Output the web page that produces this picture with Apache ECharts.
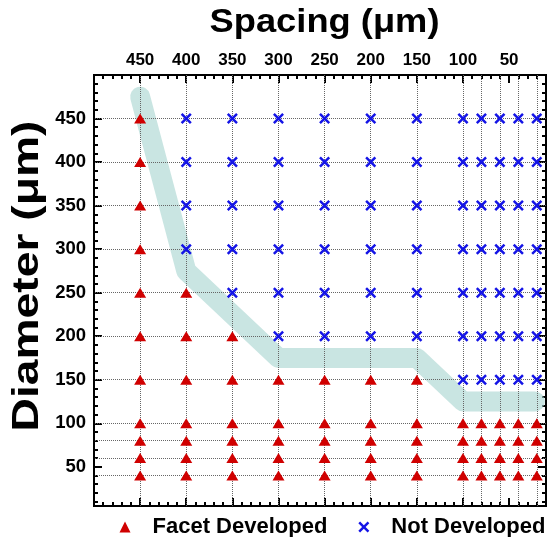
<!DOCTYPE html>
<html><head><meta charset="utf-8">
<script src="https://cdn.jsdelivr.net/npm/echarts@6/dist/echarts.min.js"></script>
<style>html,body{margin:0;padding:0;background:#fff}#c{width:553px;height:537px}</style>
</head><body><div id="c"></div>
<script>
// Data
const spacing = [450, 400, 350, 300, 250, 200, 150, 100, 80, 60, 40, 20];
const diameter = [450, 400, 350, 300, 250, 200, 150, 100, 80, 60, 40];
// largest diameter at which a facet developed, per spacing column
const facetLimit = [450, 250, 200, 150, 150, 150, 150, 100, 100, 100, 100, 100];
// boundary band
const bandSpacing = [450, 400, 300, 150, 100, 22];
const bandDiameter = [475, 275, 175, 175, 125, 125];
// tick labels
const xTickLabels = [450, 400, 350, 300, 250, 200, 150, 100, 50];
const yTickLabels = [450, 400, 350, 300, 250, 200, 150, 100, 50];
const xMinorTicks = [10,20,30,40,60,70,80,90,110,120,130,140,160,170,180,190,210,220,230,240,260,270,280,290,310,320,330,340,360,370,380,390,410,420,430,440,460,470,480,490];
const yMinorTicks = xMinorTicks;

const facet = [], notDev = [];
spacing.forEach((s, i) => diameter.forEach(d => {
  (d <= facetLimit[i] ? facet : notDev).push([s, d]);
}));
const band = bandSpacing.map((s, i) => [s, bandDiameter[i]]);

const FONT = 'Arial, "Liberation Sans", sans-serif';
const X_MIN = 10, X_MAX = 500, Y_MIN = 5, Y_MAX = 500;

function xAx(pos, ticks, len, labels) {
  return {
    type: 'value', position: pos, min: X_MIN, max: X_MAX, inverse: true,
    axisLine: { show: false }, splitLine: { show: false },
    axisTick: { show: true, inside: true, length: len, customValues: ticks, lineStyle: { color: '#000', width: 2 } },
    axisLabel: labels ? { customValues: labels, fontSize: 17, fontWeight: 'bold', color: '#000', fontFamily: FONT, margin: 6 } : { show: false }
  };
}
function yAx(pos, ticks, len, labels) {
  return {
    type: 'value', position: pos, min: Y_MIN, max: Y_MAX,
    axisLine: { show: false }, splitLine: { show: false },
    axisTick: { show: true, inside: true, length: len, customValues: ticks, lineStyle: { color: '#000', width: 2 } },
    axisLabel: labels ? { customValues: labels, fontSize: 18.5, fontWeight: 'bold', color: '#000', fontFamily: FONT, margin: 8 } : { show: false }
  };
}

const crossPath = 'path://M1.6,0L5,3.4L8.4,0L10,1.6L6.6,5L10,8.4L8.4,10L5,6.6L1.6,10L0,8.4L3.4,5L0,1.6Z';

const chart = echarts.init(document.getElementById('c'), null, { renderer: 'canvas' });
chart.setOption({
  animation: false,
  backgroundColor: '#fff',
  grid: { left: 94, right: 7, top: 75, bottom: 31, show: true, borderColor: '#000', borderWidth: 2, backgroundColor: 'transparent' },
  xAxis: [
    xAx('top', xTickLabels, 8, xTickLabels),
    xAx('top', xMinorTicks, 4, null),
    xAx('bottom', xTickLabels, 8, null),
    xAx('bottom', xMinorTicks, 4, null)
  ],
  yAxis: [
    yAx('left', yTickLabels, 8, yTickLabels),
    yAx('left', yMinorTicks, 4, null),
    yAx('right', yTickLabels, 8, null),
    yAx('right', yMinorTicks, 4, null)
  ],
  legend: {
    data: ['Facet Developed', 'Not Developed'],
    left: 114.5, top: 511, itemWidth: 11, itemHeight: 11, itemGap: 31,
    textStyle: { fontSize: 22, fontWeight: 'bold', color: '#000', fontFamily: FONT, padding: [0, 0, 0, 17] }
  },
  graphic: [
    { type: 'text', x: 324.5, y: 23, scaleX: 1.1, style: { text: 'Spacing (μm)', font: 'bold 33px ' + FONT, align: 'center', verticalAlign: 'middle', fill: '#000' } },
    { type: 'text', x: 28, y: 276, rotation: Math.PI / 2, scaleX: 1.25, style: { text: 'Diameter (μm)', font: 'bold 37px ' + FONT, align: 'center', verticalAlign: 'middle', fill: '#000' } }
  ],
  series: [
    {
      name: 'grid', type: 'scatter', data: [], silent: true, z: 1,
      markLine: {
        silent: true, symbol: ['none', 'none'], label: { show: false },
        lineStyle: { type: 'dotted', color: '#666', width: 1 },
        emphasis: { disabled: true },
        data: spacing.map(s => ({ xAxis: s })).concat(diameter.map(d => ({ yAxis: d })))
      }
    },
    {
      name: 'band', type: 'line', data: band, symbol: 'none', silent: true, z: 2, clip: false,
      lineStyle: { width: 20, color: 'rgba(165,212,207,0.6)', cap: 'round', join: 'round' }
    },
    {
      name: 'Facet Developed', type: 'scatter', data: facet, symbol: 'triangle', symbolSize: [12, 10], z: 5,
      itemStyle: { color: '#d00000', opacity: 1 }
    },
    {
      name: 'Not Developed', type: 'scatter', data: notDev, symbol: crossPath, symbolSize: 11, z: 5,
      itemStyle: { color: '#1414e6', opacity: 1 }
    }
  ]
});
</script>
</body></html>
